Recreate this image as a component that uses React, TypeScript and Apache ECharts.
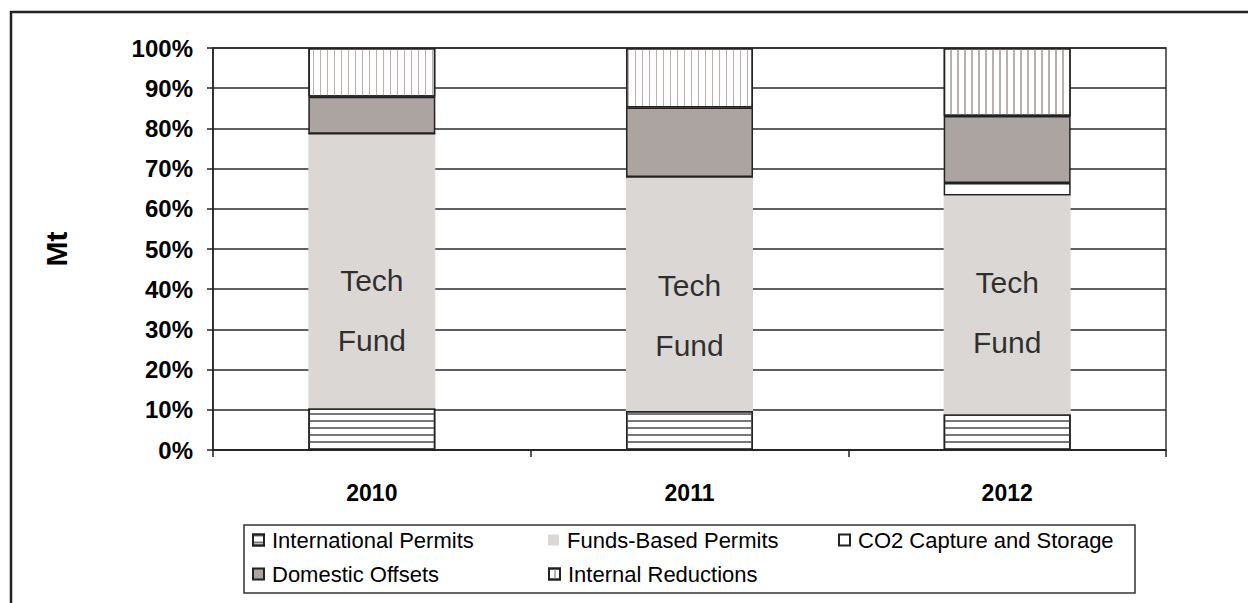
import React, { useEffect, useRef } from 'react';
import * as echarts from 'echarts';

const years = ['2010', '2011', '2012'];
const internationalPermits = [10.4, 9.7, 8.9];
const fundsBasedPermits = [68.3, 58.2, 54.4];
const co2CaptureStorage = [0, 0, 3.1];
const domesticOffsets = [9.2, 17.3, 16.7];
const internalReductions = [12.1, 14.8, 16.9];
const techFundLabelY = [34.7, 33.4, 34.1];
const seriesNames = [
  'International Permits',
  'Funds-Based Permits',
  'CO2 Capture and Storage',
  'Domestic Offsets',
  'Internal Reductions',
];

const FONT = '"Liberation Sans", Arial, sans-serif';

export default function App() {
  const ref = useRef<HTMLDivElement>(null);
  useEffect(() => {
    if (!ref.current) return;
    const chart = echarts.init(ref.current, undefined, { renderer: 'svg' });
    const border = { borderColor: '#222', borderWidth: 1.5 };
    const legendBase = {
      orient: 'horizontal',
      padding: 0,
      itemWidth: 11,
      itemHeight: 11,
      itemGap: 0,
      icon: 'rect',
      textStyle: { fontFamily: FONT, fontSize: 22, color: '#000', padding: [0, 0, 0, 3] },
      selectedMode: false,
    };
    chart.setOption({
      animation: false,
      backgroundColor: '#fff',
      textStyle: { fontFamily: FONT },
      grid: {
        left: 213,
        right: 82,
        top: 48,
        bottom: 153,
        show: true,
        borderColor: '#333',
        borderWidth: 1.5,
        backgroundColor: 'transparent',
      },
      legend: [
        { ...legendBase, data: [seriesNames[0]], left: 252, top: 529 },
        { ...legendBase, data: [seriesNames[1]], left: 548, top: 529 },
        { ...legendBase, data: [seriesNames[2]], left: 838, top: 529 },
        { ...legendBase, data: [seriesNames[3]], left: 252, top: 563 },
        { ...legendBase, data: [seriesNames[4]], left: 548, top: 563 },
      ],
      graphic: [
        {
          type: 'rect',
          shape: { x: 11, y: 12, width: 1400, height: 800 },
          style: { fill: 'none', stroke: '#222', lineWidth: 2.5 },
          silent: true,
        },
        {
          type: 'rect',
          shape: { x: 244, y: 525, width: 891, height: 68 },
          style: { fill: 'none', stroke: '#333', lineWidth: 1.5 },
          silent: true,
        },
      ],
      xAxis: {
        type: 'category',
        data: years,
        axisLine: { show: true, lineStyle: { color: '#222', width: 1.5 } },
        axisTick: { show: true, length: 7, lineStyle: { color: '#222', width: 1.5 } },
        axisLabel: { fontFamily: FONT, fontSize: 23, fontWeight: 'bold', color: '#000', margin: 31 },
      },
      yAxis: {
        type: 'value',
        min: 0,
        max: 100,
        interval: 10,
        name: 'Mt',
        nameLocation: 'middle',
        nameRotate: 90,
        nameGap: 142,
        nameTextStyle: { fontFamily: FONT, fontSize: 30, fontWeight: 'bold', color: '#000' },
        axisLine: { show: true, lineStyle: { color: '#222', width: 1.5 } },
        axisTick: { show: true, length: 6, lineStyle: { color: '#222', width: 1.5 } },
        axisLabel: {
          formatter: '{value}%',
          fontFamily: FONT,
          fontSize: 24,
          fontWeight: 'bold',
          color: '#000',
          margin: 20,
        },
        splitLine: { show: true, lineStyle: { color: '#2a2a2a', width: 1.6 } },
      },
      series: [
        {
          name: seriesNames[0],
          type: 'bar',
          stack: 'total',
          barWidth: 127,
          data: internationalPermits,
          itemStyle: {
            color: '#fff',
            ...border,
            decal: {
              symbol: 'rect',
              symbolSize: 1,
              color: '#777',
              dashArrayX: [1, 0],
              dashArrayY: [1.2, 4.3],
              rotation: 0,
            },
          },
        },
        {
          name: seriesNames[1],
          type: 'bar',
          stack: 'total',
          barWidth: 127,
          data: fundsBasedPermits,
          itemStyle: { color: '#dbd7d4', borderWidth: 0 },
        },
        {
          name: seriesNames[2],
          type: 'bar',
          stack: 'total',
          barWidth: 127,
          data: co2CaptureStorage,
          itemStyle: { color: '#fff', ...border },
        },
        {
          name: seriesNames[3],
          type: 'bar',
          stack: 'total',
          barWidth: 127,
          data: domesticOffsets,
          itemStyle: { color: '#aca4a1', ...border },
        },
        {
          name: seriesNames[4],
          type: 'bar',
          stack: 'total',
          barWidth: 127,
          data: internalReductions,
          itemStyle: {
            color: '#fff',
            ...border,
            decal: {
              symbol: 'rect',
              symbolSize: 1,
              color: '#b8b0ad',
              dashArrayX: [1, 0],
              dashArrayY: [1.2, 4.1],
              rotation: Math.PI / 2,
            },
          },
        },
        {
          type: 'scatter',
          silent: true,
          symbolSize: 0,
          z: 10,
          data: years.map((y, i) => [y, techFundLabelY[i]]),
          label: {
            show: true,
            position: 'inside',
            formatter: 'Tech\nFund',
            fontFamily: FONT,
            fontSize: 30,
            lineHeight: 60,
            color: '#000',
          },
        },
      ],
    });
    return () => chart.dispose();
  }, []);
  return (
    <div
      ref={ref}
      style={{ position: 'fixed', left: 0, top: 0, width: 1248, height: 603, background: '#fff' }}
    />
  );
}
